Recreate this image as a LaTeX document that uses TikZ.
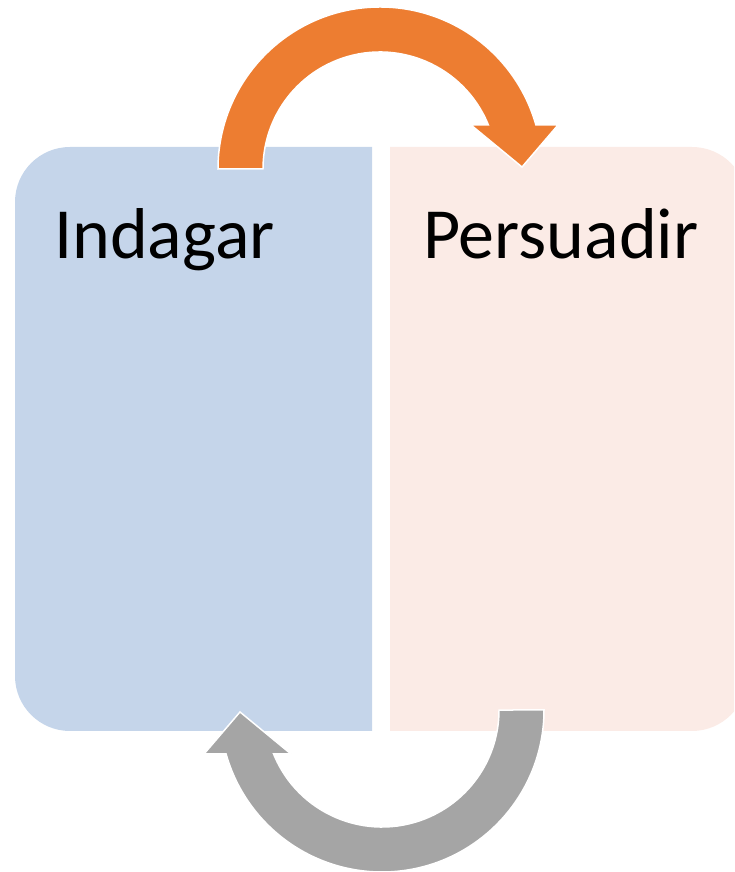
\documentclass[tikz,border=0pt]{standalone}
\usepackage{fontspec}
\setmainfont{Carlito}
\definecolor{panelblue}{HTML}{C5D5EA}
\definecolor{panelpink}{HTML}{FBEBE6}
\definecolor{arroworange}{HTML}{ED7D31}
\definecolor{arrowgray}{HTML}{A5A5A5}
\tikzset{
  x=1pt, y=1pt,
  label text/.style={anchor=base west, inner sep=0pt, font=\fontsize{72}{80}\selectfont, text=black},
  pics/cyclearrow/.style={
    code={
      \fill[#1, draw=white, line width=1.5pt, line join=miter]
        (-162,0) arc[start angle=180, end angle=15.76, radius=162]
        -- (178,44) -- (142,2) -- (91,44) -- (108.4,44)
        arc[start angle=22.09, end angle=180, radius=117] -- cycle;
    }
  }
}
\begin{document}
\begin{tikzpicture}
  \useasboundingbox (0,0) rectangle (734,872);
  \clip (0,0) rectangle (734,872);
  % left panel: rounded on the outer side
  \fill[panelblue] (372,725) -- (70,725) arc[start angle=90, end angle=180, radius=55]
    -- (15,196) arc[start angle=180, end angle=270, radius=55] -- (372,141) -- cycle;
  % right panel
  \fill[panelpink] (390,725) -- (692,725) arc[start angle=90, end angle=0, radius=55]
    -- (747,196) arc[start angle=0, end angle=-90, radius=55] -- (390,141) -- cycle;
  \node[label text] (indagar) at (54,613) {Indagar};
  \node[label text] (persuadir) at (423,613) {Persuadir};
  % circular arrows between the two panels
  \pic at (380,703) {cyclearrow=arroworange};
  \pic[rotate=180] at (382,162) {cyclearrow=arrowgray};
\end{tikzpicture}
\end{document}
